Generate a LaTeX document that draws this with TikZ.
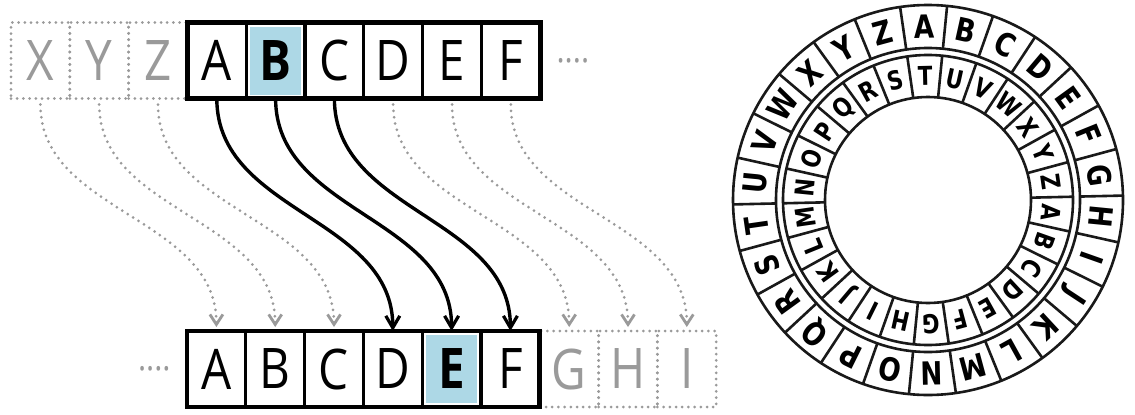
\documentclass[tikz,border=0pt]{standalone}
\usepackage{fontspec}
\usepackage{tikz}
\usetikzlibrary{arrows.meta, positioning}
\newfontfamily\stripfont[FakeStretch=0.85]{Open Sans}
\newfontfamily\wheelfont[FakeStretch=0.82]{DejaVu Sans}
\definecolor{shiftblue}{HTML}{ADD8E6}
\definecolor{ghostgray}{HTML}{9A9A9A}

\begin{document}
\begin{tikzpicture}[x=0.5pt, y=0.5pt,
    cell/.style={draw, line width=1.6pt, minimum width=29.4pt, minimum height=38pt,
      inner sep=0pt, outer sep=0pt, font=\stripfont\fontsize{28}{28}\selectfont},
    keycell/.style={cell, font=\stripfont\bfseries\fontsize{28}{28}\selectfont,
      path picture={\fill[shiftblue]
        ([shift={(2pt,2pt)}]path picture bounding box.south west) rectangle
        ([shift={(-2pt,-2pt)}]path picture bounding box.north east);}},
    ghost/.style={cell, draw=ghostgray, text=ghostgray, line width=1.5pt,
      dash pattern=on 0pt off 3.1pt, line cap=round},
    ellip/.style={inner sep=0pt, text=ghostgray, font=\stripfont\fontsize{18}{18}\selectfont},
    link/.style={draw=ghostgray, line width=1.5pt, dash pattern=on 0pt off 3.2pt,
      line cap=round, shorten <=3pt, shorten >=2pt,
      -{Straight Barb[length=5pt, width=6.5pt, line width=1.4pt]}},
    shiftlink/.style={draw, line width=1.7pt,
      -{Straight Barb[length=6pt, width=7pt, line width=1.6pt]}},
    ring/.style={draw=black!90, line width=1.3pt},
    outerletter/.style={inner sep=0pt, font=\wheelfont\bfseries\fontsize{16}{16}\selectfont},
    innerletter/.style={inner sep=0pt, font=\wheelfont\bfseries\fontsize{13}{13}\selectfont}]

  \useasboundingbox (0,0) rectangle (1135,414);
  \fill[white] (0,0) rectangle (1135,414);

  % plain alphabet (top)
  \foreach \l/\s [count=\i from 0] in {X/ghost, Y/ghost, Z/ghost, A/cell, B/keycell,
                                       C/cell, D/cell, E/cell, F/cell}
    \node[\s] (t\i) at ({11+58.8*(\i+0.5)}, 353.5) {\l};
  \draw[line width=2.4pt] (t3.south west) rectangle (t8.north east);
  \node[ellip, right=8pt of t8, yshift=-2.5pt] (tdots) {····};

  % shifted alphabet (bottom)
  \foreach \l/\s [count=\i from 0] in {A/cell, B/cell, C/cell, D/cell, E/keycell,
                                       F/cell, G/ghost, H/ghost, I/ghost}
    \node[\s] (b\i) at ({187+58.8*(\i+0.5)}, 45) {\l};
  \draw[line width=2.4pt] (b0.south west) rectangle (b5.north east);
  \node[ellip, left=8pt of b0, yshift=-2.5pt] (bdots) {····};

  % shift by three
  \foreach \i in {0,1,2,6,7,8}
    \draw[link] (t\i.south) to[out=-90, in=90] (b\i.north);
  \foreach \i in {3,4,5}
    \draw[shiftlink] (t\i.south) to[out=-90, in=90] (b\i.north);

  % cipher wheel
  \begin{scope}[shift={(928,214)}]
    \foreach \r in {195,152,145,103}
      \draw[ring] (0,0) circle (\r);
    \foreach \k in {0,...,25} {
      \pgfmathsetmacro\b{91.3-360/26*(\k+0.5)}
      \draw[ring] (\b:152) -- (\b:195);
      \draw[ring] (\b:103) -- (\b:145);
    }
    \foreach \o [count=\k from 0] in {A,...,Z} {
      \pgfmathsetmacro\a{91.3-360/26*\k}
      \node[outerletter, rotate=\a-90] (o\k) at (\a:173.5) {\o};
    }
    \foreach \n [count=\k from 0] in {T,U,V,W,X,Y,Z,A,B,C,D,E,F,G,H,I,J,K,L,M,N,O,P,Q,R,S} {
      \pgfmathsetmacro\a{91.3-360/26*\k}
      \node[innerletter, rotate=\a-90] (i\k) at (\a:124) {\n};
    }
  \end{scope}
\end{tikzpicture}
\end{document}
